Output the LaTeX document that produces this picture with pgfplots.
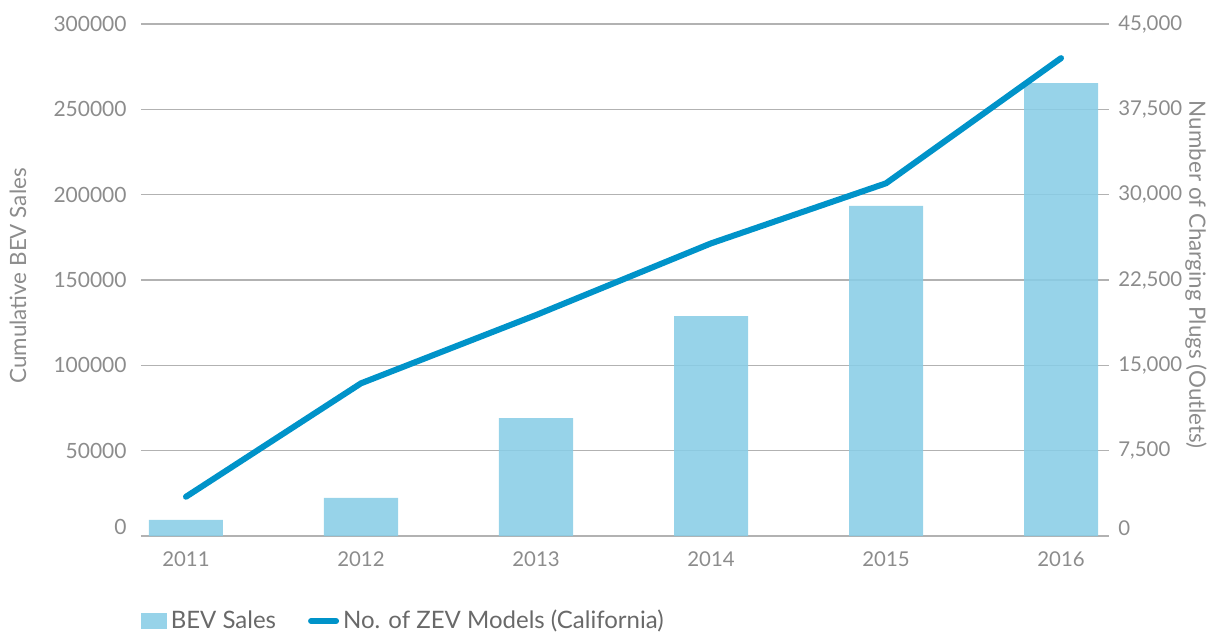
\documentclass[border=0pt]{standalone}
\usepackage{fontspec}
\setmainfont{Lato}
\usepackage{pgfplots}
\pgfplotsset{compat=1.18}
\definecolor{barblue}{RGB}{137,205,230}
\definecolor{lineblue}{RGB}{0,147,201}
\definecolor{gridgray}{RGB}{178,178,178}
\definecolor{textgray}{RGB}{140,140,140}
\definecolor{legendgray}{RGB}{105,105,105}
\begin{document}
\begin{tikzpicture}
\useasboundingbox (-70.5pt,-49pt) rectangle (540pt,268pt);
\begin{axis}[
  scale only axis, width=484pt, height=256pt,
  xmin=-0.257, xmax=5.274, ymin=0, ymax=300000,
  scaled ticks=false,
  axis x line*=bottom, axis y line*=left,
  x axis line style={gridgray, line width=0.7pt, -},
  y axis line style={draw=none},
  major tick length=0pt,
  xtick={0,1,2,3,4,5},
  xticklabels={2011,2012,2013,2014,2015,2016},
  ytick={0,50000,100000,150000,200000,250000,300000},
  yticklabels={\raisebox{4.5pt}[\height][\depth]{0},50000,100000,150000,200000,250000,300000},
  ymajorgrids, grid style={gridgray, line width=0.7pt},
  xticklabel style={font=\fontsize{10.2}{12}\selectfont, text=textgray, inner sep=0pt, yshift=-7.8pt},
  yticklabel style={font=\fontsize{10.5}{12}\selectfont, text=textgray, inner sep=0pt, xshift=-7pt},
  ylabel={Cumulative BEV Sales},
  every axis y label/.style={at={(axis description cs:-0.127,0.508)}, anchor=center, rotate=90, font=\fontsize{11.2}{13}\selectfont, text=textgray},
  legend style={at={(axis description cs:0,-0.166)}, anchor=west, draw=none, fill=none,
    legend columns=2, font=\fontsize{12}{14}\selectfont, text=legendgray, inner sep=0pt,
    /tikz/every even column/.append style={column sep=14pt}},
  legend cell align=left,
]
\addplot[ybar, bar width=0.423, fill=barblue, fill opacity=0.88, draw=none,
  legend image code/.code={\fill[barblue] (0pt,-3.8pt) rectangle (12.7pt,3.8pt);}]
  coordinates {(0,9400) (1,22300) (2,69100) (3,128900) (4,193500) (5,265400)};
\addlegendentry{BEV Sales}
\addlegendimage{legend image code/.code={\draw[lineblue, line width=3pt, line cap=round] (1.5pt,0pt) -- (14pt,0pt);}}
\addlegendentry{No. of ZEV Models (California)}
\end{axis}
\begin{axis}[
  scale only axis, width=484pt, height=256pt,
  xmin=-0.257, xmax=5.274, ymin=0, ymax=45000,
  scaled ticks=false,
  axis x line=none, axis y line*=right,
  y axis line style={draw=none},
  major tick length=0pt,
  ytick={0,7500,15000,22500,30000,37500,45000},
  yticklabels={\raisebox{4pt}[\height][\depth]{0},{7,500},{15,000},{22,500},{30,000},{37,500},{45,000}},
  yticklabel style={font=\fontsize{10.2}{12}\selectfont, text=textgray, inner sep=0pt, xshift=4.5pt, anchor=west},
  ylabel={Number of Charging Plugs (Outlets)},
  every axis y label/.style={at={(axis description cs:1.0899,0.51)}, anchor=center, rotate=-90, font=\fontsize{11.2}{13}\selectfont, text=textgray},
]
\addplot[lineblue, line width=3pt, line cap=round, line join=round]
  coordinates {(0,3450) (1,13420) (2,19420) (3,25720) (4,31000) (5,42000)};
\end{axis}
\end{tikzpicture}
\end{document}
